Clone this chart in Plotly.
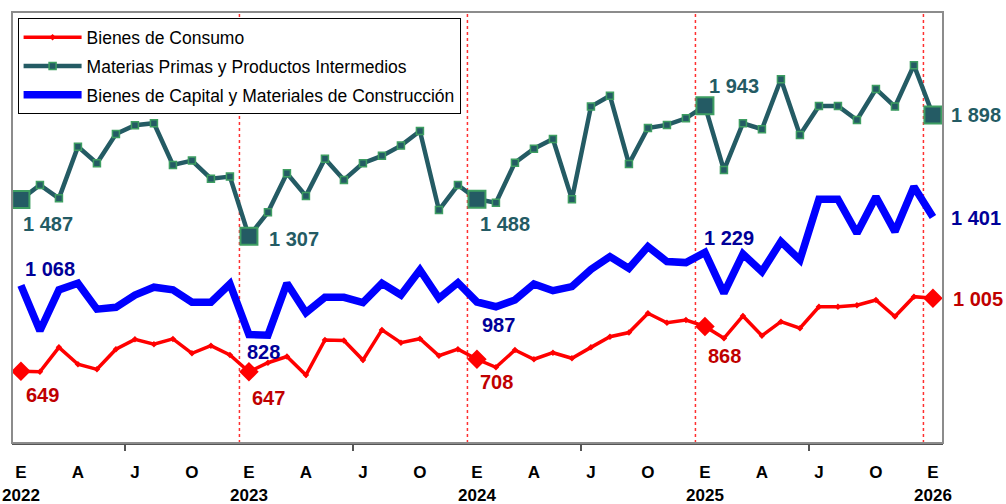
import plotly.graph_objects as go

# ---- data (monthly, Jan 2022 .. Jan 2026) ----
years = [2022, 2023, 2024, 2025, 2026]
month_letters = ["E", "A", "J", "O"]  # Jan, Apr, Jul, Oct

consumo = [649, 647, 766, 684, 659, 757, 805, 781, 807, 737, 774, 729,
           647, 691, 721, 631, 802, 799, 704, 851, 789, 808, 725, 757,
           708, 669, 753, 708, 740, 713, 766, 818, 838, 932, 886, 899,
           868, 810, 919, 823, 891, 859, 964, 964, 971, 997, 916, 1013,
           1005]
materias = [1487, 1557, 1492, 1744, 1663, 1806, 1848, 1858, 1655, 1676, 1588, 1598,
            1307, 1424, 1614, 1504, 1685, 1582, 1663, 1699, 1749, 1820, 1435, 1557,
            1488, 1471, 1666, 1734, 1781, 1488, 1939, 1992, 1660, 1835, 1850, 1882,
            1943, 1630, 1858, 1829, 2072, 1801, 1942, 1942, 1874, 2025, 1939, 2141,
            1898]
capital = [1068, 847, 1046, 1078, 952, 961, 1021, 1059, 1046, 986, 986, 1075,
           828, 825, 1078, 935, 1010, 1010, 984, 1078, 1021, 1143, 1005, 1081,
           987, 964, 997, 1075, 1042, 1062, 1146, 1208, 1151, 1257, 1184, 1179,
           1229, 1030, 1221, 1135, 1281, 1192, 1488, 1488, 1322, 1500, 1330, 1549,
           1401]

names = ["Bienes de Consumo",
         "Materias Primas y Productos Intermedios",
         "Bienes de Capital y Materiales de Construcción"]

x = list(range(len(consumo)))
jan_idx = [12 * k for k in range(len(years))]
sep_x = [12 * k - 0.5 for k in range(1, len(years))]  # Dec/Jan boundaries

# label placements (pixel offsets) for January values
lab_cons = [(3, -24), (1, -26), (1, -23), (1, -30), (18, -1)]
lab_mat = [(0, -25), (18, -3), (1, -25), (2, 20), (16, 0)]
lab_cap = [(2, 16), (-4, -17), (3, -23), (-3, 14), (16, -1)]

RED = "#FF0000"
RED_TXT = "#C00000"
TEAL = "#245B64"
GREEN = "#3E9E62"
BLUE = "#0000FF"
BLUE_TXT = "#000099"
FONT = "Liberation Sans"


def fmt(v):
    return f"{v:,}".replace(",", " ")


fig = go.Figure()

fig.add_trace(go.Scatter(
    x=x, y=consumo, name=names[0], mode="lines+markers", legendgroup="a",
    line=dict(color=RED, width=3.5),
    marker=dict(symbol="diamond", size=5, color=RED)))
fig.add_trace(go.Scatter(
    x=x, y=materias, name=names[1], mode="lines+markers", legendgroup="b",
    line=dict(color=TEAL, width=4.5),
    marker=dict(symbol="square", size=7, color=TEAL, line=dict(color=GREEN, width=1.5))))
fig.add_trace(go.Scatter(
    x=x, y=capital, name=names[2], mode="lines", legendgroup="c",
    line=dict(color=BLUE, width=7.5)))

# large January markers
fig.add_trace(go.Scatter(
    x=jan_idx, y=[consumo[i] for i in jan_idx], mode="markers", showlegend=False,
    marker=dict(symbol="diamond", size=15, color=RED)))
fig.add_trace(go.Scatter(
    x=jan_idx, y=[materias[i] for i in jan_idx], mode="markers", showlegend=False,
    marker=dict(symbol="square", size=17, color=TEAL, line=dict(color=GREEN, width=2))))

annotations = []
for series, offs, col in ((consumo, lab_cons, RED_TXT),
                          (materias, lab_mat, TEAL),
                          (capital, lab_cap, BLUE_TXT)):
    for k, i in enumerate(jan_idx):
        dx, dy = offs[k]
        annotations.append(dict(
            x=i, y=series[i], text=fmt(series[i]), showarrow=False,
            xanchor="left", yanchor="middle", xshift=dx, yshift=dy,
            font=dict(family=FONT, size=20, color=col, weight="bold")))

# year separators (between December and January)
shapes = []
for xs in sep_x:
    shapes.append(dict(type="line", xref="x", yref="paper", x0=xs, x1=xs, y0=0, y1=1,
                       layer="below",
                       line=dict(color="#FF3030", width=1.5, dash="dot")))
# plot frame
shapes.append(dict(type="rect", xref="paper", yref="paper", x0=0, x1=1, y0=0, y1=1,
                   line=dict(color="#8C8C8C", width=2), layer="above"))

tickvals = list(range(0, len(consumo), 3))
ticktext = []
for t in tickvals:
    letter = month_letters[(t % 12) // 3]
    if t % 12 == 0:
        ticktext.append(f"{letter}<br>{years[t // 12]}")
    else:
        ticktext.append(letter)

fig.update_layout(
    width=1006, height=504,
    margin=dict(l=12, r=63, t=12, b=61, autoexpand=False),
    paper_bgcolor="white", plot_bgcolor="white",
    font=dict(family=FONT, color="black"),
    showlegend=True,
    legend=dict(x=0.006, y=0.985, xanchor="left", yanchor="top",
                bgcolor="white", bordercolor="black", borderwidth=1,
                font=dict(family=FONT, size=17.5, color="black"),
                itemwidth=58, tracegroupgap=3),
    annotations=annotations,
    shapes=shapes,
    xaxis=dict(range=[-0.47, 48.53], tickmode="array", tickvals=tickvals, ticktext=ticktext,
               ticks="", showgrid=False, zeroline=False, automargin=False,
               showline=True, linecolor="#555555", linewidth=2,
               tickfont=dict(family=FONT, size=17, color="black", weight="bold"),
               ticklabelstandoff=13,
               minor=dict(tickmode="array", tickvals=[s + 6 for s in sep_x[:-1]] + [sep_x[0] - 6],
                          ticks="outside", ticklen=6, tickcolor="#555555", tickwidth=1.5,
                          showgrid=False)),
    yaxis=dict(range=[300, 2400], showticklabels=False, ticks="", showgrid=False,
               zeroline=False, showline=False, automargin=False),
)

fig.write_html("out.html",
               config={"displayModeBar": False},
               post_script="document.body.style.margin='0px';"
                           "document.body.style.overflow='hidden';")
